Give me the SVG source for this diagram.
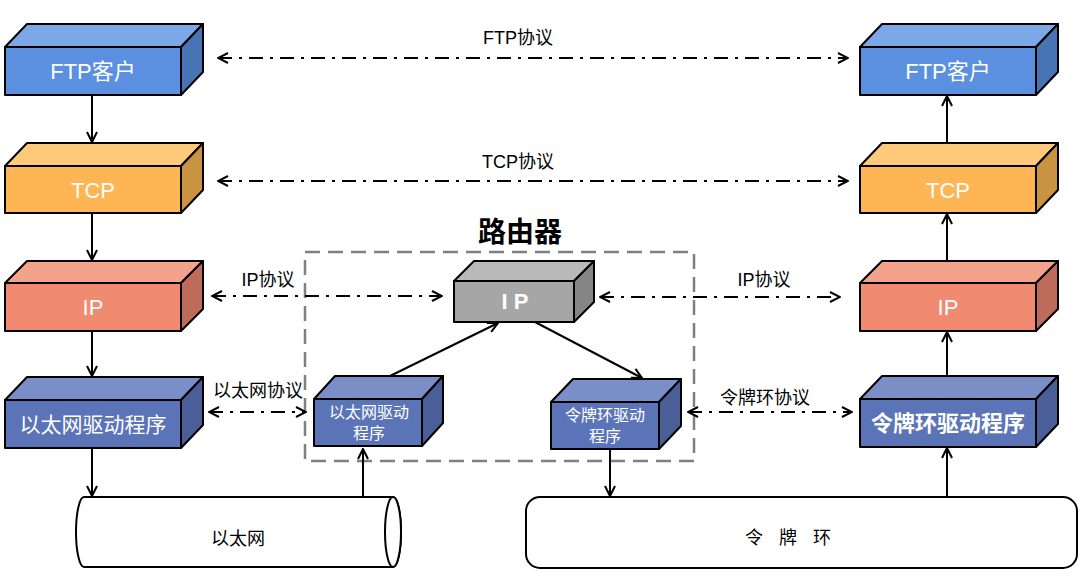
<svg xmlns="http://www.w3.org/2000/svg" width="1089" height="579" viewBox="0 0 1089 579">
<defs>
<marker id="ah" viewBox="0 0 12 12" refX="11" refY="6" markerWidth="12" markerHeight="12" markerUnits="userSpaceOnUse" orient="auto-start-reverse">
<path d="M1,1 L11,6 L1,11" fill="none" stroke="#000" stroke-width="2"/>
</marker>
</defs>
<style>
.b{stroke:#000;stroke-width:2;stroke-linejoin:round}
.t{font-family:"Liberation Sans","Noto Sans CJK SC",sans-serif;fill:#fff;text-anchor:middle}
.l{font-family:"Liberation Sans","Noto Sans CJK SC",sans-serif;fill:#000;text-anchor:middle;font-size:18px}
.c{stroke:#000;stroke-width:2;fill:none}
.dd{stroke:#000;stroke-width:2;fill:none;stroke-dasharray:14 7 3 7}
.ftpF{fill:#5B8FDF}.ftpT{fill:#7DA8E8}.ftpS{fill:#4774B5}
.tcpF{fill:#FDB653}.tcpT{fill:#FEC97B}.tcpS{fill:#C99342}
.ipF{fill:#F08A70}.ipT{fill:#F3A28B}.ipS{fill:#BE6C5A}
.drF{fill:#5B74B8}.drT{fill:#7A8EC8}.drS{fill:#4A5E98}
.gF{fill:#A6A6A6}.gT{fill:#B9B9B9}.gS{fill:#858585}
</style>
<rect width="1089" height="579" fill="#fff"/>

<g id="router-frame">
<rect x="305" y="252" width="389" height="209" fill="none" stroke="#808080" stroke-width="2.5" stroke-dasharray="15 8"/>
<text x="520" y="242" style="font-family:'Liberation Sans','Noto Sans CJK SC',sans-serif;font-size:28px;font-weight:bold;text-anchor:middle">路由器</text>
</g>

<g id="ftp-left">
<rect class="b ftpF" x="5" y="47" width="176" height="48"/>
<polygon class="b ftpT" points="5,47 27,24 203,24 181,47"/>
<polygon class="b ftpS" points="181,47 203,24 203,72 181,95"/>
<text class="t" x="93" y="79" font-size="22">FTP客户</text>
</g>
<g id="tcp-left">
<rect class="b tcpF" x="5" y="166" width="176" height="47"/>
<polygon class="b tcpT" points="5,166 27,143 203,143 181,166"/>
<polygon class="b tcpS" points="181,166 203,143 203,190 181,213"/>
<text class="t" x="93" y="198" font-size="22">TCP</text>
</g>
<g id="ip-left">
<rect class="b ipF" x="5" y="283" width="176" height="48"/>
<polygon class="b ipT" points="5,283 27,261 203,261 181,283"/>
<polygon class="b ipS" points="181,283 203,261 203,309 181,331"/>
<text class="t" x="93" y="315" font-size="22">IP</text>
</g>
<g id="eth-left">
<rect class="b drF" x="5" y="400" width="176" height="48"/>
<polygon class="b drT" points="5,400 27,377 203,377 181,400"/>
<polygon class="b drS" points="181,400 203,377 203,425 181,448"/>
<text class="t" x="93" y="432" font-size="21">以太网驱动程序</text>
</g>

<g id="ftp-right">
<rect class="b ftpF" x="860" y="47" width="176" height="48"/>
<polygon class="b ftpT" points="860,47 882,24 1058,24 1036,47"/>
<polygon class="b ftpS" points="1036,47 1058,24 1058,72 1036,95"/>
<text class="t" x="948" y="79" font-size="22">FTP客户</text>
</g>
<g id="tcp-right">
<rect class="b tcpF" x="860" y="166" width="176" height="47"/>
<polygon class="b tcpT" points="860,166 882,143 1058,143 1036,166"/>
<polygon class="b tcpS" points="1036,166 1058,143 1058,190 1036,213"/>
<text class="t" x="948" y="198" font-size="22">TCP</text>
</g>
<g id="ip-right">
<rect class="b ipF" x="860" y="283" width="176" height="48"/>
<polygon class="b ipT" points="860,283 882,261 1058,261 1036,283"/>
<polygon class="b ipS" points="1036,283 1058,261 1058,309 1036,331"/>
<text class="t" x="948" y="315" font-size="22">IP</text>
</g>
<g id="token-right">
<rect class="b drF" x="860" y="399" width="176" height="48"/>
<polygon class="b drT" points="860,399 882,376 1058,376 1036,399"/>
<polygon class="b drS" points="1036,399 1058,376 1058,424 1036,447"/>
<text class="t" x="948" y="431" font-size="22" font-weight="bold">令牌环驱动程序</text>
</g>

<g id="router-ip">
<rect class="b gF" x="454" y="281" width="120" height="41"/>
<polygon class="b gT" points="454,281 474,261 594,261 574,281"/>
<polygon class="b gS" points="574,281 594,261 594,302 574,322"/>
<text class="t" x="518" y="309" font-size="22" font-weight="bold" letter-spacing="6">IP</text>
</g>
<g id="router-eth">
<rect class="b drF" x="314" y="399" width="108" height="47"/>
<polygon class="b drT" points="314,399 335,376 443,376 422,399"/>
<polygon class="b drS" points="422,399 443,376 443,423 422,446"/>
<text class="t" x="369" y="418" font-size="16">以太网驱动</text>
<text class="t" x="369" y="439" font-size="16">程序</text>
</g>
<g id="router-token">
<rect class="b drF" x="551" y="402" width="108" height="47"/>
<polygon class="b drT" points="551,402 573,379 681,379 659,402"/>
<polygon class="b drS" points="659,402 681,379 681,426 659,449"/>
<text class="t" x="605" y="421" font-size="16">令牌环驱动</text>
<text class="t" x="605" y="442" font-size="16">程序</text>
</g>

<g id="ethernet">
<path d="M84,497 H393 A8,35 0 0 1 393,567 H84 A8,35 0 0 1 84,497 Z" fill="#fff" stroke="#000" stroke-width="2"/>
<ellipse cx="393" cy="532" rx="8" ry="35" fill="#fff" stroke="#000" stroke-width="2"/>
<text class="l" x="238" y="545" fill="#222">以太网</text>
</g>
<g id="token-ring">
<rect x="526" y="497" width="551" height="71" rx="14" fill="#fff" stroke="#000" stroke-width="2"/>
<text class="l" x="796" y="544" letter-spacing="16">令牌环</text>
</g>

<g id="connectors">
<line class="c" x1="92" y1="95" x2="92" y2="142" marker-end="url(#ah)"/>
<line class="c" x1="92" y1="213" x2="92" y2="260" marker-end="url(#ah)"/>
<line class="c" x1="92" y1="331" x2="92" y2="376" marker-end="url(#ah)"/>
<line class="c" x1="92" y1="448" x2="92" y2="496" marker-end="url(#ah)"/>
<line class="c" x1="947" y1="143" x2="947" y2="96" marker-end="url(#ah)"/>
<line class="c" x1="947" y1="261" x2="947" y2="214" marker-end="url(#ah)"/>
<line class="c" x1="947" y1="376" x2="947" y2="332" marker-end="url(#ah)"/>
<line class="c" x1="947" y1="497" x2="947" y2="448" marker-end="url(#ah)"/>
<line class="c" x1="363" y1="497" x2="363" y2="449" marker-end="url(#ah)"/>
<line class="c" x1="610" y1="449" x2="610" y2="496" marker-end="url(#ah)"/>
<line class="c" x1="390" y1="376" x2="498" y2="323" marker-end="url(#ah)"/>
<line class="c" x1="535" y1="322" x2="642" y2="378" marker-end="url(#ah)"/>

<line class="dd" x1="218" y1="58" x2="848" y2="58" marker-start="url(#ah)" marker-end="url(#ah)"/>
<line class="dd" x1="218" y1="181" x2="848" y2="181" marker-start="url(#ah)" marker-end="url(#ah)"/>
<line class="dd" x1="212" y1="296" x2="442" y2="296" marker-start="url(#ah)" marker-end="url(#ah)"/>
<line class="dd" x1="600" y1="297" x2="840" y2="297" marker-start="url(#ah)" marker-end="url(#ah)"/>
<line class="dd" x1="209" y1="412" x2="306" y2="412" marker-start="url(#ah)" marker-end="url(#ah)"/>
<line class="dd" x1="688" y1="412" x2="852" y2="412" marker-start="url(#ah)" marker-end="url(#ah)"/>

<text class="l" x="518" y="44">FTP协议</text>
<text class="l" x="518" y="168">TCP协议</text>
<text class="l" x="268" y="286">IP协议</text>
<text class="l" x="764" y="286">IP协议</text>
<text class="l" x="258" y="397">以太网协议</text>
<text class="l" x="765" y="404">令牌环协议</text>
</g>
</svg>
